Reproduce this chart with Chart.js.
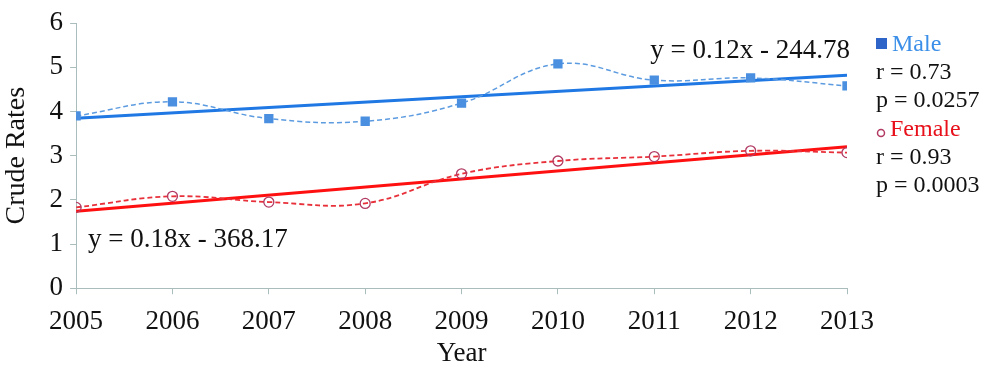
<!DOCTYPE html>
<html>
<head>
<meta charset="utf-8">
<script src="https://cdn.jsdelivr.net/npm/chart.js@4/dist/chart.umd.min.js"></script>
<style>
  html, body { margin: 0; padding: 0; background: #fff; }
  #wrap { position: relative; width: 1000px; height: 370px; }
</style>
</head>
<body>
<div id="wrap"><canvas id="c" width="1000" height="370"></canvas></div>
<script>
const years = [2005, 2006, 2007, 2008, 2009, 2010, 2011, 2012, 2013];
const male = [3.9, 4.22, 3.84, 3.78, 4.19, 5.08, 4.71, 4.76, 4.58];
const female = [1.83, 2.08, 1.95, 1.92, 2.59, 2.88, 2.98, 3.11, 3.07];
const maleTrend = [3.85, 4.82];     // fitted line at 2005 and 2013
const femaleTrend = [1.74, 3.2];
const yTicks = [0, 1, 2, 3, 4, 5, 6];

const SERIF = "'Liberation Serif', 'DejaVu Serif', serif";
const AXIS = '#A9BDBD';
const MALE_DOT = '#4A8FE0';
const MALE_LINE = '#1F78E3';
const FEMALE_DOT = '#B23A63';
const FEMALE_LINE = '#FF1010';

const pts = (vals) => vals.map((v, i) => ({ x: years[i], y: v }));
const ends = (vals) => [{ x: years[0], y: vals[0] }, { x: years[years.length - 1], y: vals[1] }];

// annotations + side legend
const notes = {
  id: 'notes',
  afterDraw(chart) {
    const ctx = chart.ctx;
    ctx.save();
    ctx.font = '27px ' + SERIF;
    ctx.fillStyle = '#111';
    ctx.textBaseline = 'middle';
    ctx.textAlign = 'right';
    ctx.fillText('y = 0.12x - 244.78', 850, 51);
    ctx.textAlign = 'left';
    ctx.fillText('y = 0.18x - 368.17', 88, 240);

    ctx.font = '24px ' + SERIF;
    // Male
    ctx.fillStyle = '#2E63C8';
    ctx.fillRect(876, 38, 11, 11);
    ctx.fillStyle = '#3B8FE8';
    ctx.fillText('Male', 892, 45);
    ctx.fillStyle = '#111';
    ctx.fillText('r = 0.73', 876, 73);
    ctx.fillText('p = 0.0257', 876, 101);
    // Female
    ctx.strokeStyle = FEMALE_DOT;
    ctx.lineWidth = 1.5;
    ctx.beginPath();
    ctx.arc(881, 133, 3.5, 0, Math.PI * 2);
    ctx.stroke();
    ctx.fillStyle = '#E8101A';
    ctx.fillText('Female', 890, 130);
    ctx.fillStyle = '#111';
    ctx.fillText('r = 0.93', 876, 158);
    ctx.fillText('p = 0.0003', 876, 186);
    ctx.restore();
  }
};

new Chart(document.getElementById('c'), {
  type: 'line',
  data: {
    datasets: [
      {
        data: ends(maleTrend), borderColor: MALE_LINE, borderWidth: 3,
        pointRadius: 0, tension: 0, order: 3
      },
      {
        data: ends(femaleTrend), borderColor: FEMALE_LINE, borderWidth: 3,
        pointRadius: 0, tension: 0, order: 4
      },
      {
        data: pts(male), borderColor: '#5C9BE0', borderWidth: 1.5, borderDash: [5, 3],
        tension: 0.4, pointStyle: 'rect', pointRadius: 5.5,
        pointBackgroundColor: MALE_DOT, pointBorderColor: MALE_DOT, order: 1
      },
      {
        data: pts(female), borderColor: '#E8303A', borderWidth: 1.8, borderDash: [5, 3],
        tension: 0.4, pointStyle: 'circle', pointRadius: 5,
        pointBackgroundColor: 'rgba(255,255,255,0)', pointBorderColor: FEMALE_DOT,
        pointBorderWidth: 1.3, order: 2
      }
    ]
  },
  options: {
    responsive: false,
    animation: false,
    layout: { padding: { left: 0, right: 153, top: 15, bottom: 0 } },
    plugins: { legend: { display: false }, tooltip: { enabled: false } },
    scales: {
      x: {
        type: 'linear', min: 2005, max: 2013,
        afterBuildTicks: (s) => { s.ticks = years.map(v => ({ value: v })); },
        grid: { display: true, drawOnChartArea: false, color: AXIS, tickLength: 6 },
        border: { color: AXIS },
        ticks: { color: '#111', font: { family: SERIF, size: 27 }, padding: 12, callback: v => String(v) },
        title: { display: true, text: 'Year', color: '#111', font: { family: SERIF, size: 27 }, padding: { top: -13, bottom: 0 } }
      },
      y: {
        min: 0, max: 6,
        afterBuildTicks: (s) => { s.ticks = yTicks.map(v => ({ value: v })); },
        grid: { display: true, drawOnChartArea: false, color: AXIS, tickLength: 6 },
        border: { color: AXIS },
        ticks: { color: '#111', font: { family: SERIF, size: 27 }, padding: 7 },
        title: { display: true, text: 'Crude Rates', color: '#111', font: { family: SERIF, size: 28 }, padding: { top: 0, bottom: 9 } }
      }
    }
  },
  plugins: [notes]
});
</script>
</body>
</html>
